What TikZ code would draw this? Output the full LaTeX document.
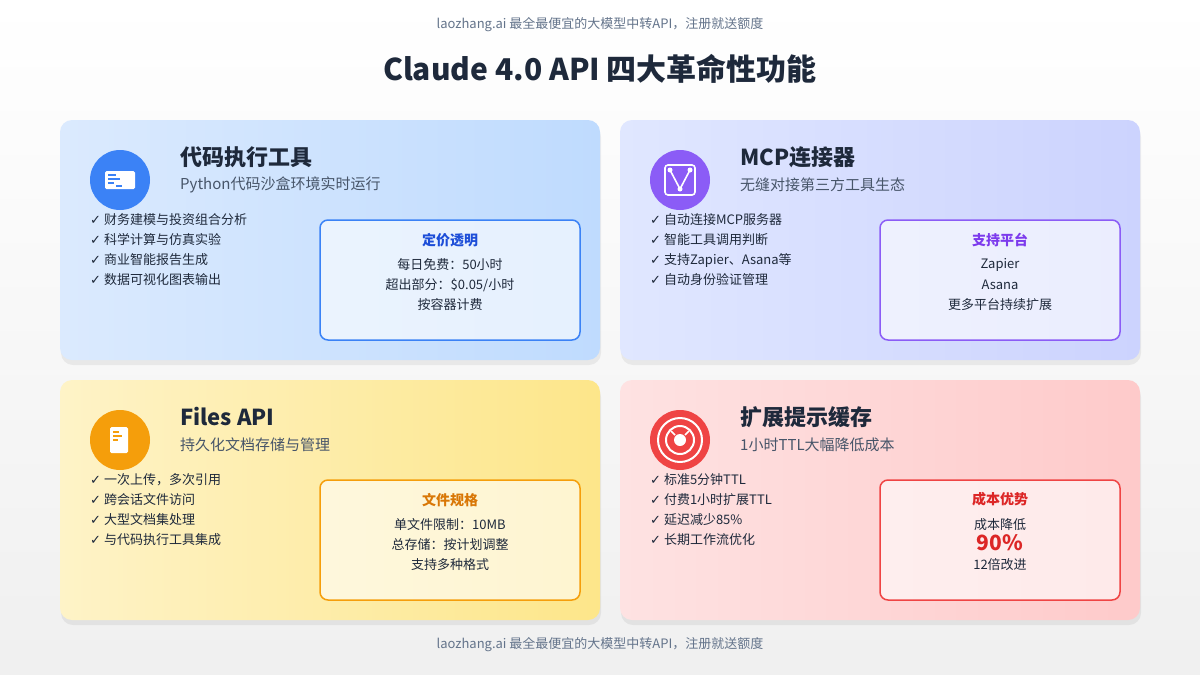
\documentclass[tikz,border=0pt]{standalone}
\usepackage{fontspec}
\setmainfont{Noto Sans CJK SC}
\newfontfamily\symfont{DejaVu Sans}
\usetikzlibrary{positioning,calc}
\definecolor{inkDark}{HTML}{1E293B}
\definecolor{inkGray}{HTML}{475569}
\definecolor{inkFoot}{HTML}{64748B}
\definecolor{cBlue}{HTML}{3B82F6}
\definecolor{cBlueD}{HTML}{1D4ED8}
\definecolor{cPurple}{HTML}{8B5CF6}
\definecolor{cPurpleD}{HTML}{7C3AED}
\definecolor{cOrange}{HTML}{F59E0B}
\definecolor{cOrangeD}{HTML}{D97706}
\definecolor{cRed}{HTML}{EF4444}
\definecolor{cRedD}{HTML}{DC2626}
\definecolor{gBlueA}{HTML}{DBEAFE}
\definecolor{gBlueB}{HTML}{BFDBFE}
\definecolor{gPurA}{HTML}{E0E7FF}
\definecolor{gPurB}{HTML}{CCD3FE}
\definecolor{gYelA}{HTML}{FEF3C7}
\definecolor{gYelB}{HTML}{FDE68A}
\definecolor{gRedA}{HTML}{FEE2E2}
\definecolor{gRedB}{HTML}{FECACA}
\newcommand{\ok}{{\symfont\char"2713}\ }
\tikzset{
  card/.style={rounded corners=12pt, draw=none},
  cardshadow/.style={rounded corners=12pt, fill=black, opacity=0.06},
  infobox/.style={rounded corners=8pt, line width=1.5pt, fill=white, fill opacity=0.6, text opacity=1},
  icon/.style={circle, minimum size=60pt, inner sep=0pt},
  ctitle/.style={anchor=west, font=\fontsize{22}{26}\selectfont\bfseries, text=inkDark, inner sep=0pt},
  csub/.style={anchor=west, font=\fontsize{15}{18}\selectfont, text=inkGray, inner sep=0pt},
  bullet/.style={anchor=west, font=\fontsize{13}{16}\selectfont, text=inkDark, inner sep=0pt},
  btitle/.style={font=\fontsize{14}{17}\selectfont\bfseries, inner sep=0pt},
  bline/.style={font=\fontsize{13}{16}\selectfont, text=inkDark, inner sep=0pt},
}
\begin{document}
\begin{tikzpicture}[x=1pt,y=-1pt]
  \shade[top color=white, bottom color=gray!12] (0,0) rectangle (1200,675);
  \useasboundingbox (0,0) rectangle (1200,675);
  % header and footer
  \node[font=\fontsize{13}{16}\selectfont, text=inkFoot] (top) at (600,25) {laozhang.ai 最全最便宜的大模型中转API，注册就送额度};
  \node[font=\fontsize{30}{36}\selectfont\bfseries, text=inkDark] (head) at (600,69) {Claude 4.0 API 四大革命性功能};
  \node[font=\fontsize{13}{16}\selectfont, text=inkFoot] (foot) at (600,645) {laozhang.ai 最全最便宜的大模型中转API，注册就送额度};
  % card shadows
  \foreach \x/\y/\w in {60/120/540,620/120/520,60/380/540,620/380/520}
    \fill[cardshadow] (\x+1,\y+5) rectangle (\x+\w+1,\y+240+5);
  % cards
  \shade[card, left color=gBlueA, right color=gBlueB] (60,120) rectangle (600,360);
  \shade[card, left color=gPurA, right color=gPurB] (620,120) rectangle (1140,360);
  \shade[card, left color=gYelA, right color=gYelB] (60,380) rectangle (600,620);
  \shade[card, left color=gRedA, right color=gRedB] (620,380) rectangle (1140,620);

  % card 1: code tool
  \node[icon, fill=cBlue] (ic1) at (120,180) {};
  \fill[white, rounded corners=1.5pt] (105,171) rectangle (135,189);
  \fill[cBlue] (108,174) rectangle (116,176);
  \fill[cBlue] (108,178) rectangle (120,180);
  \fill[cBlue] (108,182) rectangle (114,184);
  \fill[cBlue] (116,185) rectangle (122,187);
  \node[ctitle] (t1) at (180,157) {代码执行工具};
  \node[csub] (s1) at (180,185) {Python代码沙盒环境实时运行};
  \node[bullet] (b11) at (90,220) {\ok 财务建模与投资组合分析};
  \node[bullet] (b12) at (90,240) {\ok 科学计算与仿真实验};
  \node[bullet] (b13) at (90,260) {\ok 商业智能报告生成};
  \node[bullet] (b14) at (90,280) {\ok 数据可视化图表输出};
  \draw[infobox, draw=cBlue] (320,220) rectangle (580,340);
  \node[btitle, text=cBlueD] (h1) at (450,240) {定价透明};
  \node[bline] (l11) at (450,265) {每日免费：50小时};
  \node[bline] (l12) at (450,285) {超出部分：\$0.05/小时};
  \node[bline] (l13) at (450,305) {按容器计费};

  % card 2: MCP
  \node[icon, fill=cPurple] (ic2) at (680,180) {};
  \draw[white, line width=1.6pt, rounded corners=3pt] (665,165) rectangle (695,195);
  \draw[white, line width=1.6pt] (670,170) -- (680,189) -- (690,170);
  \foreach \p in {(670,170),(690,170),(680,189)} \fill[white] \p circle (2.5pt);
  \node[ctitle] (t2) at (740,157) {MCP连接器};
  \node[csub] (s2) at (740,185) {无缝对接第三方工具生态};
  \node[bullet] (b21) at (650,220) {\ok 自动连接MCP服务器};
  \node[bullet] (b22) at (650,240) {\ok 智能工具调用判断};
  \node[bullet] (b23) at (650,260) {\ok 支持Zapier、Asana等};
  \node[bullet] (b24) at (650,280) {\ok 自动身份验证管理};
  \draw[infobox, draw=cPurple] (880,220) rectangle (1120,340);
  \node[btitle, text=cPurpleD] (h2) at (1000,240) {支持平台};
  \node[bline] (l21) at (1000,265) {Zapier};
  \node[bline] (l22) at (1000,285) {Asana};
  \node[bline] (l23) at (1000,305) {更多平台持续扩展};

  % card 3: files
  \node[icon, fill=cOrange] (ic3) at (120,440) {};
  \fill[white, rounded corners=1.5pt] (110,427) rectangle (128,453);
  \fill[cOrange] (113,431) rectangle (119,433);
  \fill[cOrange] (113,435) rectangle (122,437);
  \fill[cOrange] (113,439) rectangle (118,441);
  \node[ctitle] (t3) at (180,417) {Files API};
  \node[csub] (s3) at (180,445) {持久化文档存储与管理};
  \node[bullet] (b31) at (90,480) {\ok 一次上传，多次引用};
  \node[bullet] (b32) at (90,500) {\ok 跨会话文件访问};
  \node[bullet] (b33) at (90,520) {\ok 大型文档集处理};
  \node[bullet] (b34) at (90,540) {\ok 与代码执行工具集成};
  \draw[infobox, draw=cOrange] (320,480) rectangle (580,600);
  \node[btitle, text=cOrangeD] (h3) at (450,500) {文件规格};
  \node[bline] (l31) at (450,525) {单文件限制：10MB};
  \node[bline] (l32) at (450,545) {总存储：按计划调整};
  \node[bline] (l33) at (450,565) {支持多种格式};

  % card 4: cache
  \node[icon, fill=cRed] (ic4) at (680,440) {};
  \draw[white, line width=2pt] (680,440) circle (22pt);
  \draw[white, line width=2pt] (680,440) circle (14pt);
  \fill[white] (680,440) circle (6pt);
  \draw[white, line width=1.6pt] (671,431) -- (675,435) (689,431) -- (685,435);
  \node[ctitle] (t4) at (740,417) {扩展提示缓存};
  \node[csub] (s4) at (740,445) {1小时TTL大幅降低成本};
  \node[bullet] (b41) at (650,480) {\ok 标准5分钟TTL};
  \node[bullet] (b42) at (650,500) {\ok 付费1小时扩展TTL};
  \node[bullet] (b43) at (650,520) {\ok 延迟减少85\%};
  \node[bullet] (b44) at (650,540) {\ok 长期工作流优化};
  \draw[infobox, draw=cRed] (880,480) rectangle (1120,600);
  \node[btitle, text=cRedD] (h4) at (1000,499) {成本优势};
  \node[bline] (l41) at (1000,525) {成本降低};
  \node[font=\fontsize{21}{25}\selectfont\bfseries, text=cRedD, inner sep=0pt] (l42) at (1000,543) {90\%};
  \node[bline] (l43) at (1000,565) {12倍改进};
\end{tikzpicture}
\end{document}
